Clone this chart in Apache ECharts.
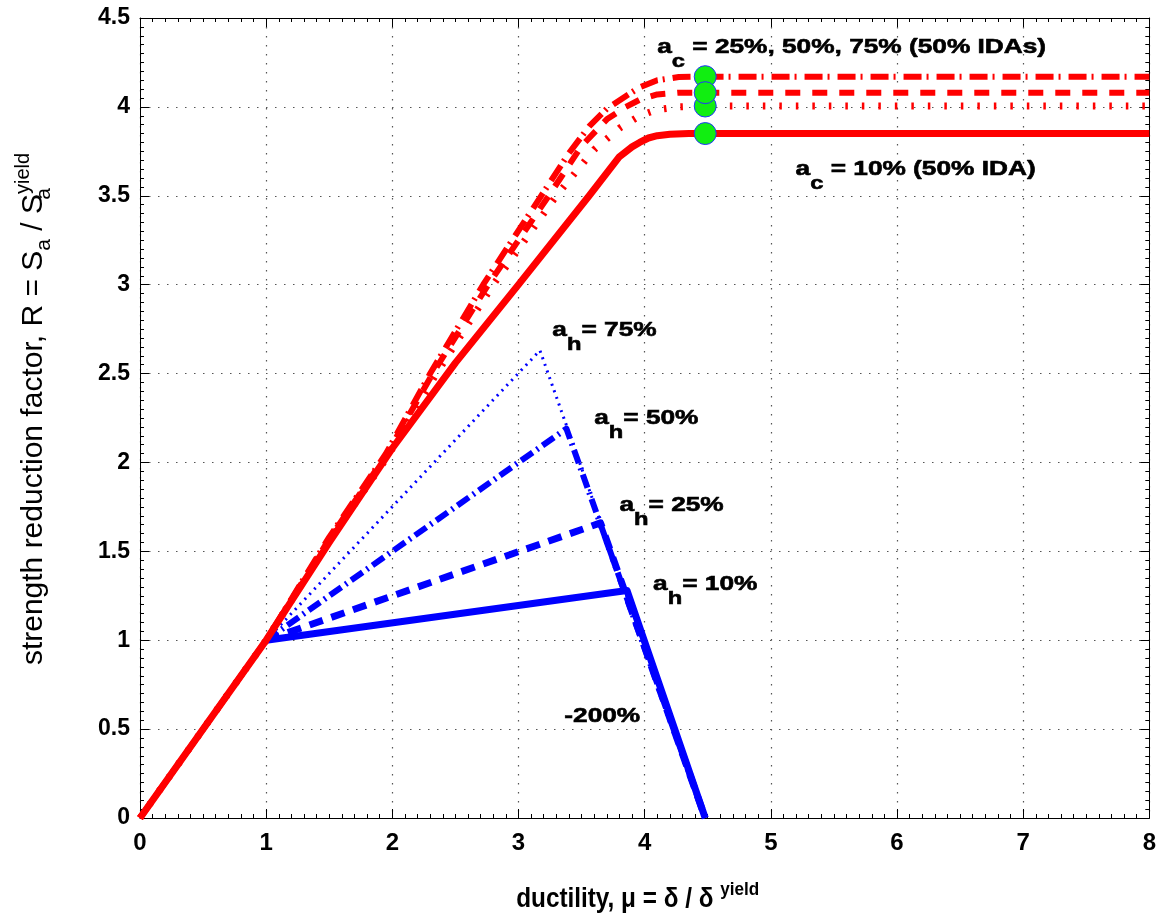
<!DOCTYPE html>
<html><head><meta charset="utf-8">
<script src="https://cdn.jsdelivr.net/npm/echarts@6/dist/echarts.min.js"></script>
<style>html,body{margin:0;padding:0;background:#fff}#c{width:1159px;height:919px}</style>
</head><body><div id="c"></div>
<script>
// ---- tick values ----
const xTickValues = [0, 1, 2, 3, 4, 5, 6, 7, 8];
const yTickValues = [0, 0.5, 1, 1.5, 2, 2.5, 3, 3.5, 4, 4.5];

// ---- blue: hardening/softening backbones (a_h = 10, 25, 50, 75 %) ----
const blueAh10 = [[1, 1], [3.86, 1.28], [4.48, 0]];
const blueAh25 = [[1, 1], [3.65, 1.66], [4.48, 0]];
const blueAh50 = [[1, 1], [3.38, 2.19], [4.48, 0]];
const blueAh75 = [[1, 1], [3.17, 2.63], [4.48, 0]];

// ---- red: 50% IDA curves (a_c = 10, 25, 50, 75 %) ----
const redAc10 = [[0, 0], [1, 1], [1.5, 1.55], [2, 2.08], [2.5, 2.56], [3, 3.0], [3.56, 3.5], [3.8, 3.72], [3.9, 3.775], [3.96, 3.80], [4.03, 3.825], [4.1, 3.838], [4.2, 3.846], [4.35, 3.85], [8, 3.85]];
const redAc25 = [[0, 0], [1, 1], [1.5, 1.56], [1.96, 2.03], [2.35, 2.5], [2.8, 3.0], [3.3, 3.5], [3.6, 3.76], [3.8, 3.88], [3.96, 3.95], [4.1, 3.985], [4.27, 4.0], [4.48, 4.005], [8, 4.005]];
const redAc50 = [[0, 0], [1, 1], [1.5, 1.57], [1.95, 2.04], [2.32, 2.5], [2.76, 3.0], [3.24, 3.5], [3.5, 3.78], [3.7, 3.93], [3.85, 4.0], [3.96, 4.04], [4.1, 4.07], [4.27, 4.08], [8, 4.08]];
const redAc75 = [[0, 0], [1, 1], [1.5, 1.58], [1.95, 2.05], [2.3, 2.5], [2.72, 3.0], [3.18, 3.5], [3.4, 3.74], [3.56, 3.89], [3.7, 3.99], [3.85, 4.06], [3.96, 4.11], [4.1, 4.15], [4.27, 4.168], [4.48, 4.17], [8, 4.17]];

// ---- green markers at mu = 4.48 ----
const markerX = [4.48, 4.48, 4.48, 4.48];
const markerY = [4.17, 4.005, 4.08, 3.85];

// ---- annotations ----
const annoTexts = [
  '{b|a}{s|c}{b| = 25%, 50%, 75% (50% IDAs)}',
  '{b|a}{s|c}{b| = 10% (50% IDA)}',
  '{b|a}{s|h}{b|= 75%}',
  '{b|a}{s|h}{b|= 50%}',
  '{b|a}{s|h}{b|= 25%}',
  '{b|a}{s|h}{b|= 10%}',
  '{b|-200%}'
];
const annoAnchors = [[4.099, 4.334], [5.196, 3.65], [3.268, 2.745], [3.60, 2.25], [3.80, 1.76], [4.067, 1.313], [3.363, 0.574]];

// ---- axis titles ----
const xTitle = 'ductility, μ = δ / δ {sup|yield}';
const yTitle = 'strength reduction factor, R = S{sub|a} / S{subz|a}{sup|yield}';

const FONT = '"Liberation Sans", Arial, Helvetica, sans-serif';
const chart = echarts.init(document.getElementById('c'), null, {renderer: 'canvas'});

function lineSeries(data, color, width, type, z) {
  return {
    type: 'line', data: data, symbol: 'none', showSymbol: false, z: z,
    animation: false, silent: true, smooth: false,
    lineStyle: {color: color, width: width, type: type, cap: 'butt', join: 'round'}
  };
}

const xMin = xTickValues[0], xMax = xTickValues[xTickValues.length - 1];
const xInt = xTickValues[1] - xTickValues[0];
const yMin = yTickValues[0], yMax = yTickValues[yTickValues.length - 1];
const yInt = yTickValues[1] - yTickValues[0];

const gridLine = {show: true, lineStyle: {color: '#555', width: 1.2, type: [1.5, 7.5]}};
const axLine = {show: true, onZero: false, lineStyle: {color: '#000', width: 1}};
const tick = {show: true, inside: true, length: 9, lineStyle: {color: '#000'}};
const minor = {show: true, splitNumber: 10, length: 4, lineStyle: {color: '#000'}};

const option = {
  backgroundColor: '#fff',
  animation: false,
  grid: {left: 140, right: 8, top: 18, bottom: 101, containLabel: false},
  xAxis: [{
    type: 'value', min: xMin, max: xMax, interval: xInt,
    axisLine: axLine, axisTick: tick, minorTick: minor, splitLine: gridLine,
    axisLabel: {color: '#000', fontFamily: FONT, fontWeight: 'bold', fontSize: 24, margin: 13}
  }, {
    type: 'value', position: 'top', min: xMin, max: xMax, interval: xInt,
    axisLine: axLine, axisTick: tick, minorTick: minor,
    splitLine: {show: false}, axisLabel: {show: false}
  }],
  yAxis: [{
    type: 'value', min: yMin, max: yMax, interval: yInt,
    axisLine: axLine, axisTick: tick, minorTick: minor, splitLine: gridLine,
    axisLabel: {color: '#000', fontFamily: FONT, fontWeight: 'bold', fontSize: 23, margin: 10}
  }, {
    type: 'value', position: 'right', min: yMin, max: yMax, interval: yInt,
    axisLine: axLine, axisTick: tick, minorTick: minor,
    splitLine: {show: false}, axisLabel: {show: false}
  }],
  series: [
    lineSeries(blueAh75, '#0000ff', 3, [2, 5], 2),
    lineSeries(blueAh50, '#0000ff', 6, [14, 5, 2, 5], 3),
    lineSeries(blueAh25, '#0000ff', 7, [14, 9], 4),
    lineSeries(blueAh10, '#0000ff', 7, 'solid', 5),
    lineSeries(redAc25, '#ff0000', 7, [2.5, 14], 6),
    lineSeries(redAc50, '#ff0000', 6, [15, 12], 7),
    lineSeries(redAc75, '#ff0000', 6, [18, 5, 2, 8], 8),
    lineSeries(redAc10, '#ff0000', 7, 'solid', 9),
    {
      type: 'scatter', z: 10, animation: false, silent: true,
      data: markerX.map((x, i) => [x, markerY[i]]),
      symbol: 'circle', symbolSize: 22,
      itemStyle: {color: '#11ee11', borderColor: '#2233ff', borderWidth: 1, opacity: 1}
    }
  ]
};
chart.setOption(option);

const richAnno = {
  b: {fontFamily: FONT, fontWeight: 'bold', fontSize: 21, lineHeight: 48, fill: '#000', verticalAlign: 'middle',
      stroke: '#000', lineWidth: 0.6},
  s: {fontFamily: FONT, fontWeight: 'bold', fontSize: 19, lineHeight: 20, fill: '#000', verticalAlign: 'bottom',
      stroke: '#000', lineWidth: 0.6}
};
const graphics = annoTexts.map((t, i) => {
  const p = chart.convertToPixel({xAxisIndex: 0, yAxisIndex: 0}, annoAnchors[i]);
  return {
    type: 'text', x: p[0], y: p[1], z: 20, silent: true, scaleX: 1.25,
    style: {text: t, rich: richAnno, textAlign: 'left', textVerticalAlign: 'middle',
      font: 'bold 21px ' + FONT, fill: '#000'}
  };
});

// x-axis title
const gridRect = chart.getModel().getComponent('grid').coordinateSystem.getRect();
graphics.push({
  type: 'text', x: gridRect.x + gridRect.width / 2 - 7, y: 900, z: 20, silent: true, scaleX: 0.9,
  style: {
    text: xTitle, textAlign: 'center', textVerticalAlign: 'middle', fill: '#000',
    font: 'bold 27px ' + FONT,
    rich: {
      sup: {fontFamily: FONT, fontWeight: 'bold', fontSize: 19, lineHeight: 18, verticalAlign: 'top', fill: '#000'}
    },
    lineHeight: 40
  }
});
// y-axis title (rotated)
graphics.push({
  type: 'text', x: 34, y: gridRect.y + gridRect.height / 2 - 9, z: 20, silent: true,
  rotation: Math.PI / 2,
  style: {
    text: yTitle, textAlign: 'center', textVerticalAlign: 'middle', fill: '#000',
    font: '30px ' + FONT, lineHeight: 42,
    rich: {
      sub: {fontFamily: FONT, fontSize: 21, lineHeight: 20, verticalAlign: 'bottom', fill: '#000'},
      subz: {fontFamily: FONT, fontSize: 21, lineHeight: 20, verticalAlign: 'bottom', fill: '#000', width: 0},
      sup: {fontFamily: FONT, fontSize: 20, lineHeight: 18, verticalAlign: 'top', fill: '#000'}
    }
  }
});
chart.setOption({graphic: graphics});
</script>
</body></html>
